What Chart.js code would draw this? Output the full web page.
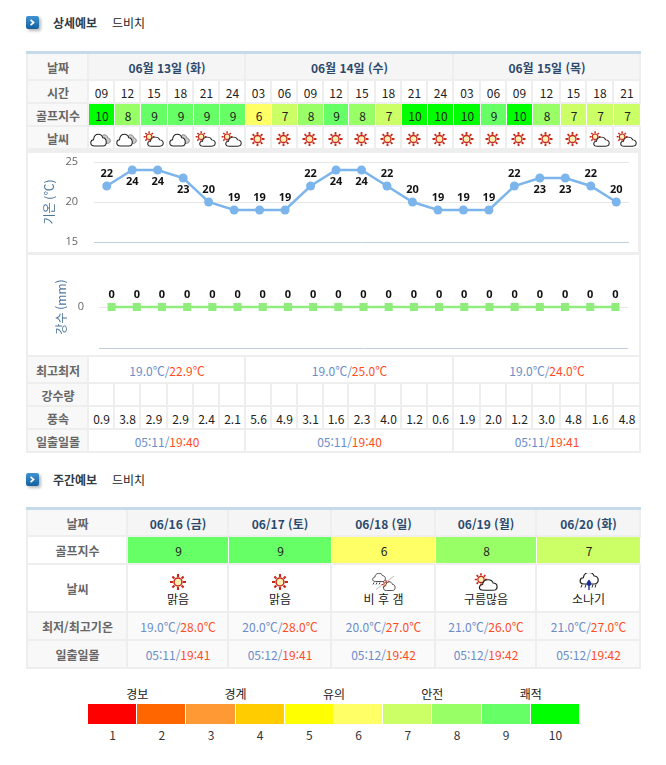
<!DOCTYPE html>
<html lang="ko">
<head>
<meta charset="utf-8">
<title>상세예보 드비치</title>
<script src="https://cdn.jsdelivr.net/npm/chart.js@4"></script>
<style>
html,body{margin:0;padding:0;background:#fff}
body{width:666px;height:765px;position:relative;overflow:hidden;font:12px "Noto Sans CJK KR","Noto Sans",sans-serif;color:#222}
#page div.c{position:absolute;box-sizing:border-box;display:flex;align-items:center;justify-content:center;flex-direction:column;border-right:2px solid #eee;border-bottom:2px solid #eee;line-height:1.15;white-space:pre;padding:2px 0 0 1px}
#page div.t{position:absolute;white-space:pre;line-height:16px}
#page div.c.head{background:#f5f5f5;color:#2b4a6e;font-weight:700}
#page div.c.lab{background:#f8f8f8;color:#666;font-weight:700;padding-left:1px}
#page div.c.soft{background:#fafafa}
#page div.c.golf{border-right:1px solid #fff;border-bottom:2px solid #eee;color:#222;padding-left:1px}
.lo{color:#6a8cc9}.hi{color:#ff4d1f}
canvas{position:absolute;display:block}
svg.ic{display:block}
</style>
</head>
<body>
<svg width="0" height="0" style="position:absolute">
<defs>
<g id="rays"><path d="M0 -8V-5M0 8V5M-8 0H-5M8 0H5M-5.6 -5.6L-3.6 -3.6M5.6 -5.6L3.6 -3.6M-5.6 5.6L-3.6 3.6M5.6 5.6L3.6 3.6" stroke="#c8281c" stroke-width="2.1" fill="none"/><circle r="4" fill="#fbf0b4" stroke="#c8281c" stroke-width="1.5"/></g>
<path id="cl" d="M5 17C2.2 17 .9 15.2 .9 13.4C.9 11.4 2.3 10 4 9.8C4.4 6.2 6.6 3.6 9.6 3.6C12 3.6 13.9 5.2 14.6 7.6C16.8 7.5 18.6 9.4 18.6 12.4C18.6 15.2 16.8 17 14.6 17Z" fill="#fff" stroke="#222" stroke-width="1.2"/>
<symbol id="sun" viewBox="0 0 24 18"><use href="#rays" transform="translate(12 9)"/></symbol>
<symbol id="cloud" viewBox="0 0 24 18"><path d="M14 5.6C15 4.3 16.2 4 17.4 4.3C19.2 4.8 20 6 20 7.6C22 7.8 23.2 9.4 23.2 11C23.2 13 21.6 14 20 14H16Z" fill="#ccc" stroke="#777"/><use href="#cl"/></symbol>
<symbol id="suncloud" viewBox="0 0 24 18"><use href="#rays" transform="translate(7 6.5) scale(.78)"/><g transform="translate(4.5 4) scale(1 .78)"><use href="#cl"/></g></symbol>
<symbol id="rainclear" viewBox="0 0 24 18"><g transform="translate(0 -2) scale(.72 .62)"><use href="#cl"/></g><path d="M2 9.5l-1 2M5 9.5l-1 2M8 9.5l-1 2" stroke="#444" fill="none"/><path d="M4 16.5L22 3" stroke="#bbb"/><use href="#rays" transform="translate(14 11.5) scale(.55)"/><g transform="translate(11 6.5) scale(.65)"><use href="#cl"/></g></symbol>
<symbol id="shower" viewBox="0 0 24 18"><g transform="translate(2.2 -3.5) scale(1.02 .85)"><use href="#cl"/></g><path d="M5 11.5l-1 3M9 11.5l-1 3M16 11.5l-1 3M19 11.5l-1 3" stroke="#222" fill="none"/><path d="M12 6.5c1.6 2 2.4 3 2.4 4.1a2.4 2.4 0 0 1 -4.8 0c0 -1.1 .8 -2.1 2.4 -4.1Z" fill="#1c2f96"/><path d="M12 12v5" stroke="#1c2f96" stroke-width="1.4"/></symbol>
</defs>
</svg>
<div id="page"></div>
<canvas id="tempChart" width="610" height="98" style="left:28px;top:153px"></canvas>
<canvas id="rainChart" width="610" height="100" style="left:28px;top:255px"></canvas>
<script>
// ---------- data ----------
const dayLabels = ['06월 13일 (화)', '06월 14일 (수)', '06월 15일 (목)'];
const hours = ['09','12','15','18','21','24','03','06','09','12','15','18','21','24','03','06','09','12','15','18','21'];
const golfIndex = [10,8,9,9,9,9,6,7,8,9,8,7,10,10,10,9,10,8,7,7,7];
const weather = ['cloud','cloud','suncloud','cloud','suncloud','suncloud','sun','sun','sun','sun','sun','sun','sun','sun','sun','sun','sun','sun','sun','suncloud','suncloud'];
const temps = [22,24,24,23,20,19,19,19,22,24,24,22,20,19,19,19,22,23,23,22,20];
const rain = [0,0,0,0,0,0,0,0,0,0,0,0,0,0,0,0,0,0,0,0,0];
const wind = ['0.9','3.8','2.9','2.9','2.4','2.1','5.6','4.9','3.1','1.6','2.3','4.0','1.2','0.6','1.9','2.0','1.2','3.0','4.8','1.6','4.8'];
const dayMin = ['19.0','19.0','19.0'];
const dayMax = ['22.9','25.0','24.0'];
const daySunrise = ['05:11','05:11','05:11'];
const daySunset = ['19:40','19:40','19:41'];
const tempTicks = [15,20,25];

const weekDates = ['06/16 (금)','06/17 (토)','06/18 (일)','06/19 (월)','06/20 (화)'];
const weekGolf = [9,9,6,8,7];
const weekIcon = ['sun','sun','rainclear','suncloud','shower'];
const weekSky = ['맑음','맑음','비 후 갬','구름많음','소나기'];
const weekMin = ['19.0','20.0','20.0','21.0','21.0'];
const weekMax = ['28.0','28.0','27.0','26.0','27.0'];
const weekSunrise = ['05:11','05:12','05:12','05:12','05:12'];
const weekSunset = ['19:41','19:41','19:42','19:42','19:42'];

const scaleColors = ['#ff0000','#ff6600','#ff9933','#ffcc00','#ffff00','#ffff66','#ccff66','#99ff66','#66ff66','#00ff00'];
const scaleNames = ['경보','경계','유의','안전','쾌적'];

// ---------- layout ----------
const page = document.getElementById('page');
function cell(x0,x1,y0,y1,html,cls){
  const d=document.createElement('div');
  d.className='c '+(cls||'');
  d.style.cssText=`left:${x0}px;top:${y0}px;width:${x1-x0}px;height:${y1-y0}px`;
  d.innerHTML=html; page.appendChild(d); return d;
}
function text(x,y,s,css){
  const d=document.createElement('div'); d.className='t';
  d.style.cssText=`left:${x}px;top:${y-8}px;`+(css||''); d.textContent=s; page.appendChild(d); return d;
}
function box(x,y,w,h,css){
  const d=document.createElement('div');
  d.style.cssText=`position:absolute;left:${x}px;top:${y}px;width:${w}px;height:${h}px;`+css; page.appendChild(d); return d;
}
function icon(name,w,h,dx){
  return `<svg class="ic" width="${w}" height="${h}" style="margin-left:${dx||0}px"><use href="#${name}"/></svg>`;
}
function pair(a,b,sep){ return `<span><span class="lo">${a}</span><span style="color:${sep}">/</span><span class="hi">${b}</span></span>`; }
function heading(y,label){
  const b=box(26,y-7,13,13,'border-radius:2px;background:linear-gradient(#3f93d2,#15609f);box-shadow:2px 2px 3px #bbb');
  b.innerHTML='<svg width="13" height="13" style="display:block"><path d="M4.6 3.8L7.6 6.5L4.6 9.2" fill="none" stroke="#fff" stroke-width="1.7"/></svg>';
  text(53,y,label,'font-weight:700;color:#2f3b48');
  text(112,y,'드비치','color:#222');
}

heading(23,'상세예보');
heading(480,'주간예보');

// ---------- upper table ----------
const colX=[89,115,141,168,194,220,246,272,298,324,349,376,402,428,454,481,507,533,561,587,614,641];
const dayEdge=[89,246,454,641];
box(26,51,615,3,'background:#c6dbea');
box(26,54,2,399,'background:#eee');
const L=28;
cell(L,89,54,81,'날짜','lab');
cell(L,89,81,104,'시간','lab');
cell(L,89,104,127,'골프지수','lab');
cell(L,89,127,150,'날씨','lab');
dayLabels.forEach((t,i)=>cell(dayEdge[i],dayEdge[i+1],54,81,t,'head'));
hours.forEach((h,i)=>{
  cell(colX[i],colX[i+1],81,104,h,'');
  const g=cell(colX[i],colX[i+1],104,127,String(golfIndex[i]),'golf');
  g.style.background=scaleColors[golfIndex[i]-1];
  cell(colX[i],colX[i+1],127,150,icon(weather[i],21,16,-2),'');
});
box(28,150,613,3,'background:#eee');
box(28,252,613,3,'background:#eee');
box(638,153,3,99,'background:#eee');
box(639,255,2,102,'background:#eee');
box(28,355,613,2,'background:#eee');
cell(L,89,357,384,'최고최저','lab');
cell(L,89,384,407,'강수량','lab');
cell(L,89,407,430,'풍속','lab');
cell(L,89,430,453,'일출일몰','lab');
dayLabels.forEach((t,i)=>{
  cell(dayEdge[i],dayEdge[i+1],357,384,pair(dayMin[i]+'℃',dayMax[i]+'℃','#6a8cc9'),'');
  cell(dayEdge[i],dayEdge[i+1],430,453,pair(daySunrise[i],daySunset[i],'#6a8cc9'),'');
});
wind.forEach((w,i)=>{
  cell(colX[i],colX[i+1],384,407,'','');
  cell(colX[i],colX[i+1],407,430,w,'');
});

// ---------- lower table ----------
const wkX=[128,229,332,436,537,641];
box(26,507,615,3,'background:#c6dbea');
box(26,510,2,159,'background:#eee');
cell(L,128,510,537,'날짜','lab');
cell(L,128,537,565,'골프지수','lab').style.background='#fff';
cell(L,128,565,613,'날씨','lab').style.background='#fff';
cell(L,128,613,641,'최저/최고기온','lab');
cell(L,128,641,669,'일출일몰','lab');
weekDates.forEach((d,i)=>{
  const a=wkX[i],b=wkX[i+1];
  cell(a,b,510,537,d,'head');
  const g=cell(a,b,537,565,String(weekGolf[i]),'golf'); g.style.background=scaleColors[weekGolf[i]-1];
  cell(a,b,565,613,icon(weekIcon[i],24,18)+`<span style="color:#222;margin-top:1px">${weekSky[i]}</span>`,'');
  cell(a,b,613,641,pair(weekMin[i]+'℃',weekMax[i]+'℃','#6a8cc9'),'soft');
  cell(a,b,641,669,pair(weekSunrise[i],weekSunset[i],'#6a8cc9'),'soft');
});

// ---------- golf index legend ----------
const lgX=88, lgW=49.2;
scaleColors.forEach((c,i)=>{
  box(lgX+i*lgW,704,lgW-1,20,'background:'+c);
  text(lgX+i*lgW,735,String(i+1),`width:${lgW}px;text-align:center;color:#333`);
});
scaleNames.forEach((s,i)=>{
  text(lgX+i*2*lgW,694,s,`width:${2*lgW}px;text-align:center;color:#222`);
});

// ---------- charts ----------
const labelPlugin={
  id:'valueLabels',
  afterDatasetsDraw(chart,args,opts){
    const ctx=chart.ctx, ds=chart.data.datasets[0], meta=chart.getDatasetMeta(0);
    ctx.save();
    ctx.font='bold 11px "Open Sans"'; ctx.fillStyle='#111'; ctx.textAlign='center'; ctx.textBaseline='middle';
    meta.data.forEach((p,i)=>{
      const v=ds.data[i];
      const dy=opts.belowFrom!==undefined && v>=opts.belowFrom ? opts.below : opts.above;
      ctx.fillText(String(v),p.x,p.y+dy);
    });
    ctx.restore();
  }
};
const titleFont={family:'"Noto Sans CJK KR"',size:12};
const tickFont={family:'"Open Sans"',size:11};
function fixedWidth(w){ return s=>{ s.width=w; s.paddingTop=0; s.paddingBottom=0; }; }
const xHidden={type:'category',display:false,offset:true,grid:{display:false}};

new Chart(document.getElementById('tempChart'),{
  type:'line',
  data:{labels:hours,datasets:[{data:temps,borderColor:'#7cb5ec',backgroundColor:'#7cb5ec',borderWidth:2.5,pointRadius:4.5,pointBorderWidth:0,tension:0}]},
  options:{
    responsive:false,animation:false,events:[],
    layout:{padding:{left:14,right:9,top:9,bottom:9}},
    plugins:{legend:{display:false},tooltip:{enabled:false},valueLabels:{above:-12,below:12,belowFrom:23}},
    scales:{
      x:xHidden,
      y:{min:tempTicks[0],max:tempTicks[2],
        afterBuildTicks(s){ s.ticks=tempTicks.map(v=>({value:v})); },
        afterFit:fixedWidth(52),
        border:{display:false},
        grid:{drawTicks:false,color:c=>c.tick.value===tempTicks[0]?'#c0d0e0':'#e6e6e6'},
        ticks:{padding:16,color:'#666',font:tickFont},
        title:{display:true,text:'기온 (℃)',color:'#4d759e',font:titleFont,padding:0}
      }
    }
  },
  plugins:[labelPlugin]
});

new Chart(document.getElementById('rainChart'),{
  type:'line',
  data:{labels:hours,datasets:[{data:rain,borderColor:'#90ed7d',backgroundColor:'#90ed7d',borderWidth:2.5,pointStyle:'rect',pointRadius:5.7,pointBorderWidth:0,tension:0}]},
  options:{
    responsive:false,animation:false,events:[],
    layout:{padding:{left:26,right:10,top:11,bottom:7}},
    plugins:{legend:{display:false},tooltip:{enabled:false},valueLabels:{above:-12}},
    scales:{
      x:xHidden,
      y:{min:-1,max:1,
        afterFit:fixedWidth(45),
        border:{display:false},
        grid:{drawTicks:false,color:c=>c.tick.value===0?'#e6e6e6':(c.tick.value<0?'#c0d0e0':'transparent')},
        ticks:{stepSize:1,padding:15,color:'#666',font:tickFont,callback:v=>v===0?'0':''},
        title:{display:true,text:'강수 (mm)',color:'#4d759e',font:titleFont,padding:0}
      }
    }
  },
  plugins:[labelPlugin]
});
</script>
</body>
</html>
